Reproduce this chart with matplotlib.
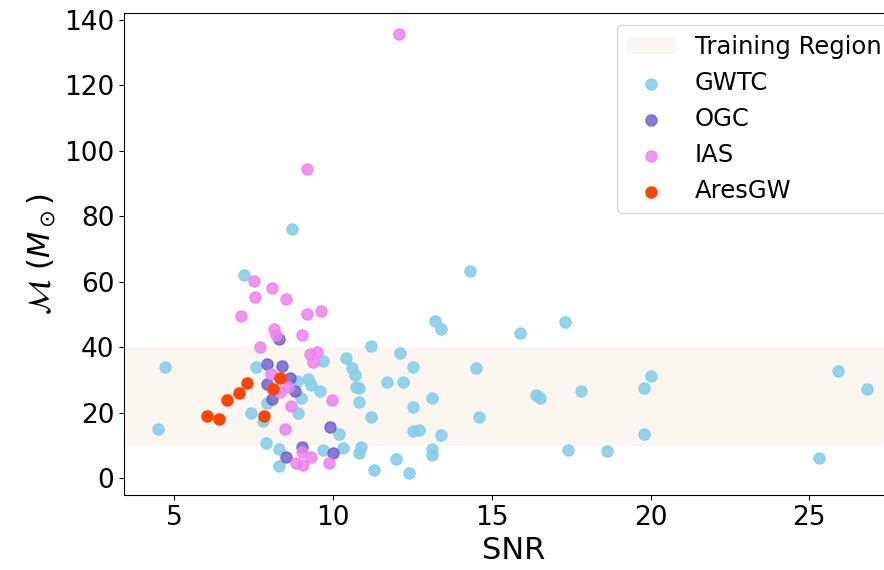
import matplotlib
matplotlib.use("Agg")
import matplotlib.pyplot as plt

# SNR / chirp mass values
gwtc_snr = [4.70, 4.50, 7.20, 7.57, 7.41, 7.80, 7.91, 7.88, 8.29, 8.29,
            8.91, 9.00, 9.20, 9.31, 9.59, 9.69, 10.40, 8.86, 8.70, 10.20,
            9.69, 10.32, 10.88, 10.82, 14.31, 13.21, 13.40, 15.90, 11.20, 12.10,
            12.51, 14.50, 10.59, 10.69, 11.71, 12.19, 10.72, 10.82, 10.82, 13.11,
            12.51, 11.20, 14.61, 12.51, 12.72, 13.40, 13.11, 13.11, 12.00, 11.30,
            12.40, 17.31, 16.39, 16.52, 17.81, 20.01, 19.80, 19.80, 17.41, 18.62,
            25.91, 26.81, 25.31]
gwtc_mc = [34.1, 15.1, 62.2, 34.1, 20.0, 17.5, 23.1, 10.9, 8.9, 3.8,
           20.0, 24.6, 30.4, 28.5, 26.8, 35.7, 36.6, 29.8, 76.0, 13.6,
           8.6, 9.2, 9.5, 7.6, 63.3, 48.1, 45.7, 44.5, 40.4, 38.2,
           33.9, 33.6, 33.6, 31.5, 29.5, 29.5, 28.0, 27.5, 23.4, 24.4,
           21.9, 18.6, 18.6, 14.5, 14.7, 13.2, 8.9, 7.1, 5.9, 2.5,
           1.5, 47.6, 25.3, 24.6, 26.8, 31.2, 27.5, 13.4, 8.6, 8.4,
           32.9, 27.3, 6.2]

ogc_snr = [7.91, 8.40, 8.31, 7.91, 8.64, 8.80, 8.07, 9.90, 9.01, 10.01, 8.51]
ogc_mc = [34.9, 34.3, 42.5, 28.8, 30.5, 26.8, 24.1, 15.8, 9.5, 7.8, 6.4]

ias_snr = [12.08, 9.19, 7.52, 8.07, 7.54, 8.51, 7.10, 9.17, 9.61, 8.15,
           8.22, 9.01, 7.70, 9.27, 9.49, 9.38, 8.05, 8.59, 8.33, 9.96,
           8.68, 8.49, 9.01, 9.31, 8.82, 9.06, 9.87]
ias_mc = [135.7, 94.4, 60.3, 58.2, 55.5, 54.8, 49.6, 50.1, 51.0, 45.6,
          43.8, 43.8, 40.2, 37.9, 38.7, 35.6, 31.8, 28.0, 26.4, 23.9,
          22.1, 15.0, 8.1, 6.6, 4.6, 4.1, 4.6]

ares_snr = [6.02, 6.41, 6.65, 7.03, 7.30, 7.83, 8.12, 8.34]
ares_mc = [19.0, 18.0, 23.9, 26.0, 29.0, 19.0, 27.4, 30.6]

train_low, train_high = 10, 40

fig = plt.figure(figsize=(8.84, 5.70), dpi=100)
# axes run past the right edge, the reference is cropped there
ax = fig.add_axes([0.1403, 0.1316, 0.8819, 0.8456])

ax.axhspan(train_low, train_high, color="linen", alpha=0.6, lw=0,
           label="Training Region")
ax.scatter(gwtc_snr, gwtc_mc, s=64, color="skyblue", alpha=0.9, label="GWTC")
ax.scatter(ogc_snr, ogc_mc, s=64, color="slateblue", alpha=0.8, label="OGC")
ax.scatter(ias_snr, ias_mc, s=64, color="violet", alpha=0.85, label="IAS")
ax.scatter(ares_snr, ares_mc, s=64, color="orangered", label="AresGW")

ax.set_xlim(3.42, 27.97)
ax.set_ylim(-5.1, 142.1)
ax.set_xticks([5, 10, 15, 20, 25])
ax.set_yticks([0, 20, 40, 60, 80, 100, 120, 140])
ax.tick_params(labelsize=19)

ax.set_xlabel("SNR", fontsize=22)
ax.set_ylabel(r"$\mathcal{M}$ $(M_\odot)$", fontsize=22)

ax.legend(loc="upper right", fontsize=17.5)

fig.savefig("out.png", dpi=100)
